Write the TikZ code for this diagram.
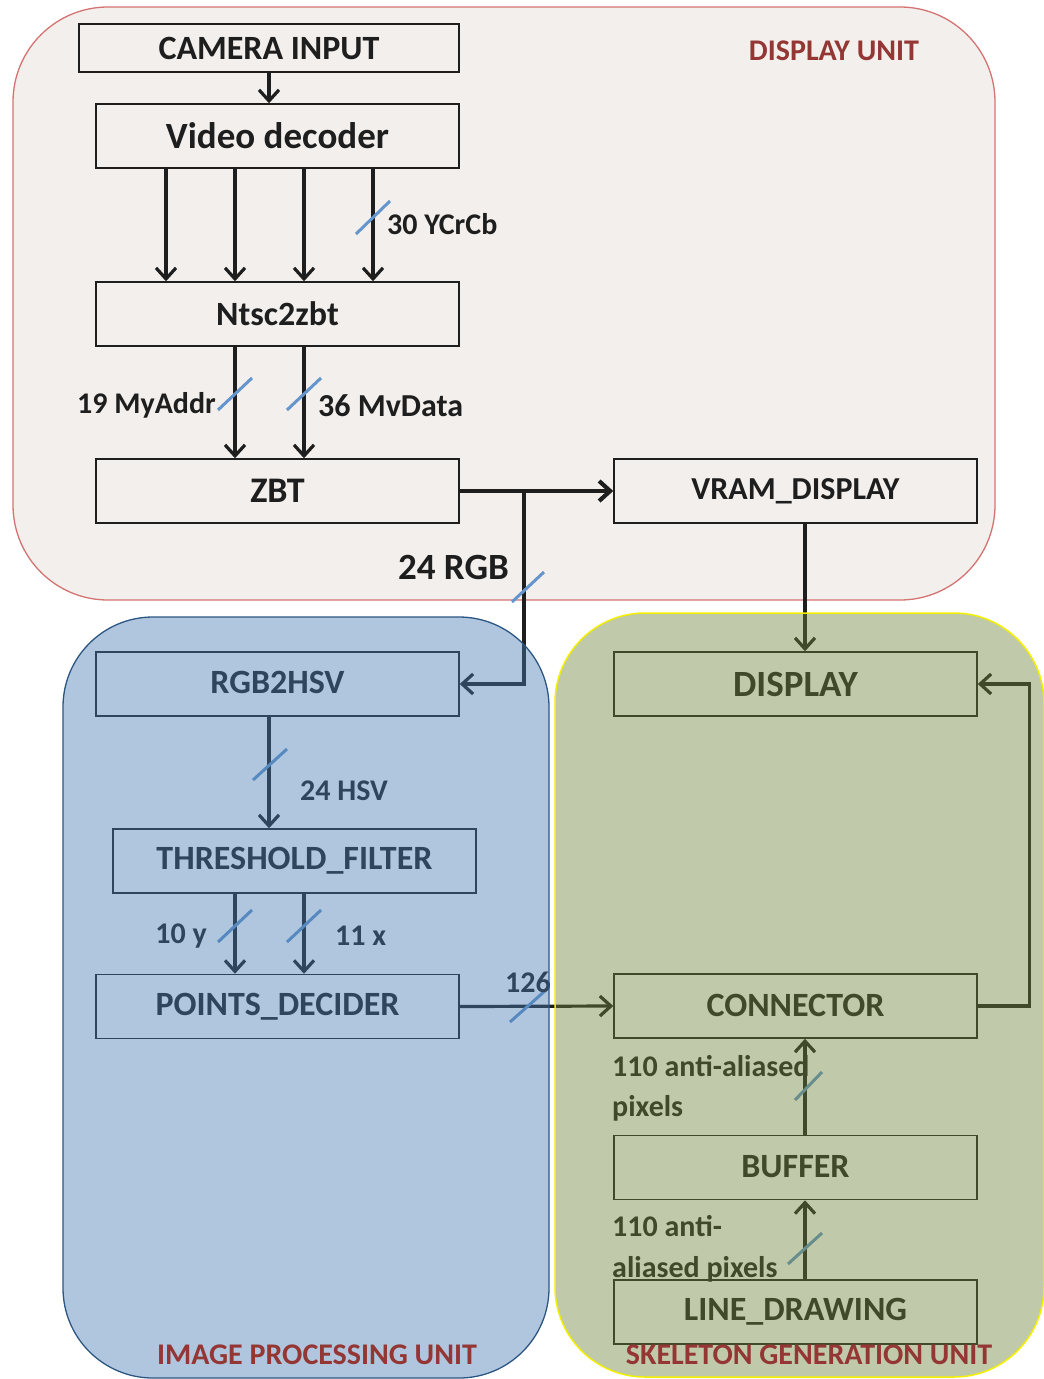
\documentclass[tikz,border=0pt]{standalone}
\usepackage{fontspec}
\setmainfont{Carlito}
\usetikzlibrary{arrows.meta}
\definecolor{dispfill}{HTML}{F2EFEC}
\definecolor{dispborder}{HTML}{D47372}
\definecolor{blueov}{RGB}{71,122,178}
\definecolor{blueborder}{HTML}{2B5683}
\definecolor{greenov}{RGB}{109,130,57}
\definecolor{greenborder}{HTML}{F2F000}
\definecolor{unitred}{HTML}{943634}
\definecolor{slashblue}{RGB}{100,150,205}
\definecolor{ink}{HTML}{1E1E1E}
\tikzset{
  box/.style={draw=ink, line width=1.5pt, inner sep=0pt, minimum width=363pt, minimum height=64pt, text=ink, font=\bfseries\fontsize{34}{40}\selectfont},
  arr/.style={draw=ink, line width=3.2pt, -{Straight Barb[length=11pt,width=20pt]}},
  slash/.style={draw=slashblue, line width=3pt},
  lbl/.style={text=ink, inner sep=0pt, font=\bfseries\fontsize{30}{36}\selectfont},
  unit/.style={text=unitred, inner sep=0pt, font=\bfseries\fontsize{30}{36}\selectfont},
}
\begin{document}
\begin{tikzpicture}[x=1pt,y=-1pt]
\useasboundingbox (0,0) rectangle (1044,1379);
% display unit background
\draw[fill=dispfill, draw=dispborder, line width=1.3pt, rounded corners=95pt] (13,7) rectangle (995,600);

% columns
\coordinate (xa) at (166,0);
\coordinate (xb) at (235,0);
\coordinate (xc) at (304,0);
\coordinate (xd) at (373,0);
\coordinate (xh) at (269,0);
\coordinate (xr) at (524,0);
\coordinate (xv) at (805,0);

% boxes
\node[box, minimum width=380pt, minimum height=48pt] (cam) at (269,48) {\raisebox{-3pt}{CAMERA INPUT}};
\node[box, font=\bfseries\fontsize{37}{44}\selectfont] (vdec) at (277.5,136) {Video decoder};
\node[box] (ntsc) at (277.5,314) {\raisebox{-2pt}{Ntsc2zbt}};
\node[box, font=\bfseries\fontsize{36}{42}\selectfont] (zbt) at (277.5,491) {ZBT};
\node[box, font=\bfseries\fontsize{32}{40}\selectfont] (vram) at (795.5,491) {\raisebox{2pt}{VRAM\_DISPLAY}};
\node[box] (rgb) at (277.5,684) {\raisebox{3pt}{RGB2HSV}};
\node[box] (thr) at (294.5,861) {THRESHOLD\_FILTER};
\node[box] (pts) at (277.5,1006.5) {\raisebox{2pt}{POINTS\_DECIDER}};
\node[box, font=\bfseries\fontsize{37}{44}\selectfont] (disp) at (795.5,684) {DISPLAY};
\node[box] (conn) at (795.5,1006) {\raisebox{2pt}{CONNECTOR}};
\node[box] (buf) at (795.5,1167.5) {\raisebox{3pt}{BUFFER}};
\node[box] (line) at (795.5,1312) {\raisebox{3pt}{LINE\_DRAWING}};

% connectors
\draw[arr] (cam.south -| xh) -- (vdec.north -| xh);
\draw[arr] (vdec.south -| xa) -- (ntsc.north -| xa);
\draw[arr] (vdec.south -| xb) -- (ntsc.north -| xb);
\draw[arr] (vdec.south -| xc) -- (ntsc.north -| xc);
\draw[arr] (vdec.south -| xd) -- (ntsc.north -| xd);
\draw[arr] (ntsc.south -| xb) -- (zbt.north -| xb);
\draw[arr] (ntsc.south -| xc) -- (zbt.north -| xc);
\draw[arr, line width=4.2pt] (zbt.east) -- (vram.west);
\draw[arr] (zbt.east -| xr) |- (rgb.east);
\draw[arr] (vram.south -| xv) -- (disp.north -| xv);
\draw[arr] (rgb.south -| xh) -- (thr.north -| xh);
\draw[arr] (thr.south -| xb) -- (pts.north -| xb);
\draw[arr] (thr.south -| xc) -- (pts.north -| xc);
\draw[arr] (pts.east) -- (conn.west);
\draw[arr] (conn.east) -- ++(52,0) |- (disp.east);
\draw[arr] (buf.north -| xv) -- (conn.south -| xv);
\draw[arr] (line.north -| xv) -- (buf.south -| xv);

% bus slashes
\draw[slash] (356,234) -- (390,201);
\draw[slash] (218,410) -- (252,378);
\draw[slash] (287,410) -- (321,378);
\draw[slash] (512,602) -- (544,572);
\draw[slash] (253,780) -- (287,749);
\draw[slash] (218,942) -- (252,910);
\draw[slash] (287,942) -- (321,910);
\draw[slash] (510,1022) -- (546,990);
\draw[slash] (795,1100) -- (822,1072);
\draw[slash] (788,1264) -- (822,1233);

% labels
\node[lbl, anchor=west] (l30) at (387,224) {30 YCrCb};
\node[lbl, anchor=east] (l19) at (216,405) {19 MyAddr};
\node[lbl, anchor=west, font=\bfseries\fontsize{32}{38}\selectfont] (l36) at (318,406) {36 MvData};
\node[lbl, anchor=east, font=\bfseries\fontsize{37}{44}\selectfont] (l24) at (509,567) {24 RGB};
\node[lbl, anchor=west] (lhsv) at (300,791) {24 HSV};
\node[lbl, anchor=east] (l10) at (207,936) {10 y};
\node[lbl, anchor=west] (l11) at (335,936) {11 x};
\node[lbl, anchor=west] (l126) at (505,982) {126};
\node[lbl, anchor=west] (la1) at (612,1066) {110 anti-aliased};
\node[lbl, anchor=west] (la2) at (612,1108) {pixels};
\node[lbl, anchor=west] (lb1) at (612,1226) {110 anti-};
\node[lbl, anchor=west] (lb2) at (612,1269) {aliased pixels};

% overlay regions
\fill[blueov, fill opacity=0.43, rounded corners=90pt] (63,617) rectangle (549,1378);
\draw[blueborder, line width=1.3pt, rounded corners=90pt] (63,617) rectangle (549,1378);
\fill[greenov, fill opacity=0.43, rounded corners=90pt] (555,613) rectangle (1044,1377);
\draw[greenborder, line width=1.5pt, rounded corners=90pt] (555,613) rectangle (1044,1377);

% unit labels
\node[unit] (u1) at (834,51) {DISPLAY UNIT};
\node[unit] (u2) at (317,1355) {IMAGE PROCESSING UNIT};
\node[unit] (u3) at (809,1355) {SKELETON GENERATION UNIT};
\end{tikzpicture}
\end{document}
